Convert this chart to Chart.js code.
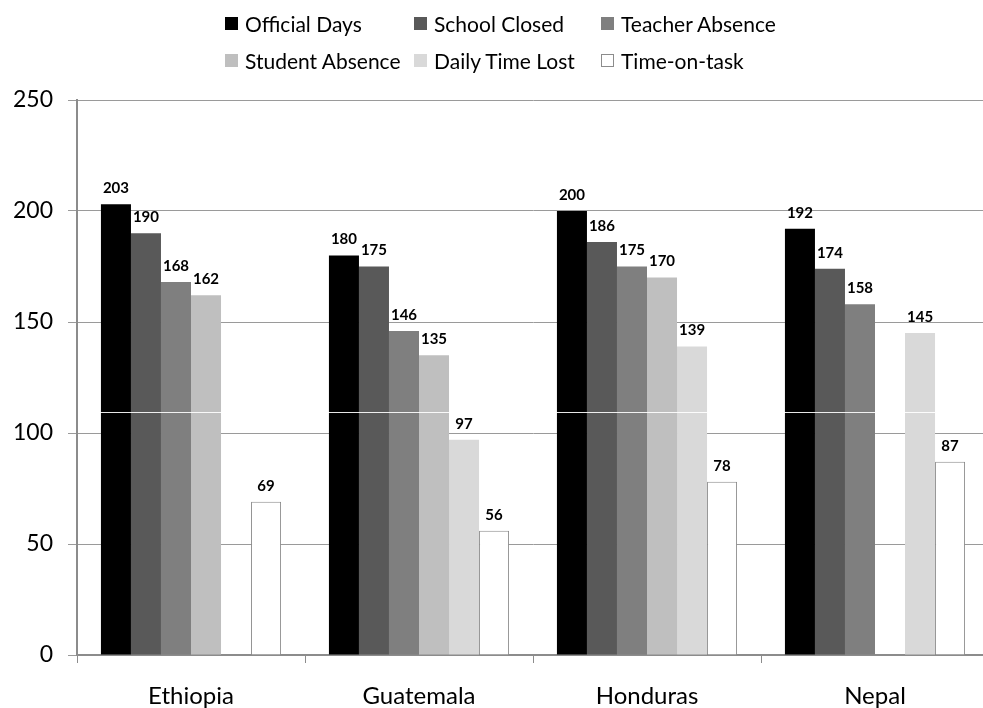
<!DOCTYPE html>
<html>
<head>
<meta charset="utf-8">
<script src="https://cdn.jsdelivr.net/npm/chart.js@4.4.1/dist/chart.umd.min.js"></script>
<style>
  html, body { margin: 0; padding: 0; background: #fff; overflow: hidden; }
  #wrap { position: relative; width: 983px; height: 708px; overflow: hidden; }
  #chart { position: absolute; left: 0; top: 0; }
  .legend-item { position: absolute; display: flex; align-items: center; font-family: Lato, sans-serif; font-size: 21px; color: #000; white-space: nowrap; line-height: 1; }
  .legend-box { width: 13px; height: 13px; box-sizing: border-box; margin-right: 7px; }
</style>
</head>
<body>
<div id="wrap">
  <canvas id="chart" width="989" height="708"></canvas>
  <div id="legend"></div>
</div>
<script>
// Instructional time in days, by country
const countries = ['Ethiopia', 'Guatemala', 'Honduras', 'Nepal'];

const seriesNames = ['Official Days', 'School Closed', 'Teacher Absence', 'Student Absence', 'Daily Time Lost', 'Time-on-task'];
const seriesColors = ['#000000', '#595959', '#7f7f7f', '#bfbfbf', '#d9d9d9', '#ffffff'];

const officialDays    = [203, 180, 200, 192];
const schoolClosed    = [190, 175, 186, 174];
const teacherAbsence  = [168, 146, 175, 158];
const studentAbsence  = [162, 135, 170, null];
const dailyTimeLost   = [null, 97, 139, 145];
const timeOnTask      = [69, 56, 78, 87];

const yTicks = [0, 50, 100, 150, 200, 250];

// level of the thin white rule that runs across the bars
const RULE_LEVEL = 109.6;

const seriesValues = [officialDays, schoolClosed, teacherAbsence, studentAbsence, dailyTimeLost, timeOnTask];

const datasets = seriesNames.map((name, i) => ({
  label: name,
  data: seriesValues[i],
  backgroundColor: seriesColors[i],
  borderColor: i === 5 ? '#8c8c8c' : seriesColors[i],
  borderWidth: i === 5 ? 1 : 0,
  borderSkipped: i === 5 ? 'bottom' : 'start',
  categoryPercentage: 0.79,
  barPercentage: 1.0
}));

// value labels above each bar
const valueLabels = {
  id: 'valueLabels',
  afterDatasetsDraw(chart) {
    const ctx = chart.ctx;
    ctx.save();
    ctx.font = 'bold 15px Lato, sans-serif';
    ctx.fillStyle = '#000';
    ctx.textAlign = 'center';
    ctx.textBaseline = 'middle';
    chart.data.datasets.forEach((ds, di) => {
      const meta = chart.getDatasetMeta(di);
      meta.data.forEach((bar, j) => {
        const v = ds.data[j];
        if (v === null || v === undefined) return;
        ctx.fillText(String(v), bar.x, bar.y - 16);
      });
    });
    ctx.restore();
  }
};

// thin white rule across the bars
const whiteRule = {
  id: 'whiteRule',
  afterDatasetsDraw(chart) {
    const { ctx, chartArea, scales } = chart;
    const y = Math.round(scales.y.getPixelForValue(RULE_LEVEL)) + 0.5;
    ctx.save();
    ctx.strokeStyle = 'rgba(255,255,255,0.9)';
    ctx.lineWidth = 1;
    ctx.beginPath();
    ctx.moveTo(chartArea.left + 2, y);
    ctx.lineTo(chartArea.right, y);
    ctx.stroke();
    ctx.restore();
  }
};

new Chart(document.getElementById('chart'), {
  type: 'bar',
  data: { labels: countries, datasets },
  options: {
    responsive: false,
    devicePixelRatio: 1,
    animation: false,
    layout: { padding: { top: 100, right: 0, bottom: 0, left: 0 } },
    plugins: {
      legend: { display: false },
      tooltip: { enabled: false }
    },
    scales: {
      x: {
        grid: {
          offset: true,
          drawOnChartArea: false,
          drawTicks: true,
          tickLength: 8,
          color: '#8c8c8c',
          lineWidth: 1
        },
        border: { color: '#8c8c8c', width: 2 },
        ticks: {
          color: '#000',
          font: { family: 'Lato, sans-serif', size: 24 },
          padding: 19
        },
        afterFit(scale) { scale.height = 53; }
      },
      y: {
        min: 0,
        max: 250,
        afterBuildTicks(scale) { scale.ticks = yTicks.map(v => ({ value: v })); },
        grid: {
          color: '#9a9a9a',
          lineWidth: 1,
          drawTicks: true,
          tickLength: 9
        },
        border: { color: '#8c8c8c', width: 2 },
        ticks: {
          color: '#000',
          font: { family: 'Lato, sans-serif', size: 23 },
          padding: 15
        },
        afterFit(scale) { scale.width = 77; }
      }
    }
  },
  plugins: [valueLabels, whiteRule]
});

// two-row legend with aligned columns
const legendCols = [225, 414, 601];
const legendRows = [23, 60];
const legendEl = document.getElementById('legend');
seriesNames.forEach((name, i) => {
  const item = document.createElement('div');
  item.className = 'legend-item';
  item.style.left = legendCols[i % 3] + 'px';
  item.style.top = (legendRows[Math.floor(i / 3)] - 12) + 'px';
  item.style.height = '24px';
  const box = document.createElement('span');
  box.className = 'legend-box';
  box.style.background = seriesColors[i];
  if (i === 5) box.style.border = '1px solid #8c8c8c';
  const txt = document.createElement('span');
  txt.textContent = name;
  item.appendChild(box);
  item.appendChild(txt);
  legendEl.appendChild(item);
});
</script>
</body>
</html>
